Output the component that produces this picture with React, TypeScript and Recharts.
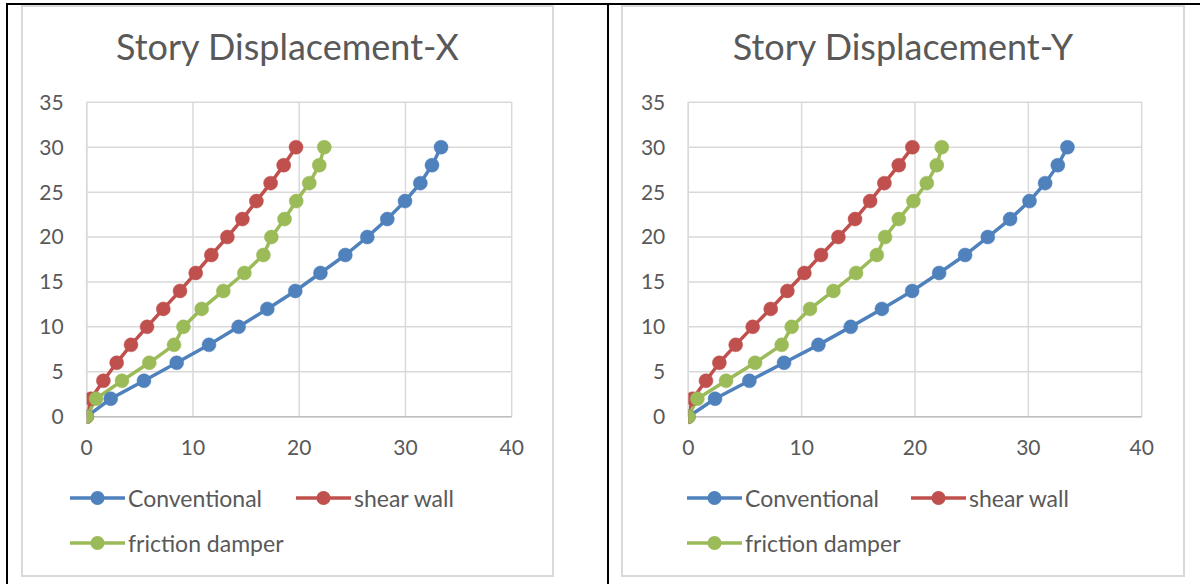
import React from 'react';
import { LineChart, Line, XAxis, YAxis, CartesianGrid } from 'recharts';

// ---------- data ----------
const stories = [0, 2, 4, 6, 8, 10, 12, 14, 16, 18, 20, 22, 24, 26, 28, 30];

const seriesNames = ['Conventional', 'shear wall', 'friction damper'];
const seriesColors = ['#4F81BD', '#C0504D', '#9BBB59'];

const xConventional = [0, 2.26, 5.39, 8.47, 11.51, 14.3, 17.0, 19.63, 22.0, 24.34, 26.41, 28.29, 29.96, 31.4, 32.5, 33.35];
const xShearWall = [0, 0.4, 1.57, 2.82, 4.17, 5.68, 7.21, 8.78, 10.26, 11.73, 13.24, 14.65, 15.97, 17.31, 18.54, 19.7];
const xFriction = [0, 0.88, 3.32, 5.89, 8.22, 9.1, 10.82, 12.86, 14.84, 16.63, 17.38, 18.62, 19.72, 20.95, 21.89, 22.36];

const yConventional = [0, 2.36, 5.39, 8.45, 11.48, 14.33, 17.08, 19.75, 22.13, 24.42, 26.42, 28.39, 30.1, 31.48, 32.6, 33.45];
const yShearWall = [0, 0.38, 1.56, 2.74, 4.18, 5.68, 7.27, 8.74, 10.24, 11.71, 13.24, 14.71, 16.04, 17.3, 18.57, 19.77];
const yFriction = [0, 0.8, 3.33, 5.89, 8.24, 9.12, 10.74, 12.8, 14.8, 16.63, 17.36, 18.57, 19.86, 21.04, 21.92, 22.36];

const xTicks = [0, 10, 20, 30, 40];
const yTicks = [0, 5, 10, 15, 20, 25, 30, 35];

const titles = ['Story Displacement-X', 'Story Displacement-Y'];

// ---------- layout ----------
const FONT = 'Lato, "Open Sans", sans-serif';
const TEXT = '#595959';

type Layout = {
  box: { left: number; top: number; width: number; height: number };
  margin: { top: number; right: number; bottom: number; left: number };
  yAxisWidth: number;
  legend: { x: number; y: number }[];
};

const layouts: Layout[] = [
  {
    box: { left: 21, top: 5, width: 533, height: 572 },
    margin: { top: 97.3, right: 42.3, bottom: 120.3, left: 0 },
    yAxisWidth: 65.7,
    legend: [
      { x: 69, y: 498 },
      { x: 295, y: 498 },
      { x: 69, y: 543 },
    ],
  },
  {
    box: { left: 621, top: 5, width: 564, height: 572 },
    margin: { top: 97.3, right: 43.3, bottom: 120.3, left: 0 },
    yAxisWidth: 67.3,
    legend: [
      { x: 686, y: 498 },
      { x: 910, y: 498 },
      { x: 686, y: 543 },
    ],
  },
];

const toPoints = (xs: number[]) => xs.map((x, i) => ({ x, y: stories[i] }));

const chartSeries = [
  [toPoints(xConventional), toPoints(xShearWall), toPoints(xFriction)],
  [toPoints(yConventional), toPoints(yShearWall), toPoints(yFriction)],
];

function LegendItem({ name, color, x, y }: { name: string; color: string; x: number; y: number }) {
  return (
    <div
      style={{
        position: 'absolute',
        left: x,
        top: y - 14,
        height: 28,
        display: 'flex',
        alignItems: 'center',
        fontFamily: FONT,
        fontSize: 23,
        color: TEXT,
        whiteSpace: 'nowrap',
      }}
    >
      <svg width={57} height={20} style={{ marginRight: 2 }}>
        <line x1={1} y1={10} x2={56} y2={10} stroke={color} strokeWidth={3.5} />
        <circle cx={28.5} cy={10} r={7} fill={color} />
      </svg>
      <span>{name}</span>
    </div>
  );
}

function StoryChart({ idx }: { idx: number }) {
  const L = layouts[idx];
  const series = chartSeries[idx];
  return (
    <>
      <div
        style={{
          position: 'absolute',
          left: L.box.left,
          top: L.box.top,
          width: L.box.width,
          height: L.box.height,
          border: '2px solid #d9d9d9',
          boxSizing: 'border-box',
          background: '#fff',
        }}
      />
      <div
        style={{
          position: 'absolute',
          left: L.box.left,
          top: 24.5,
          width: L.box.width,
          textAlign: 'center',
          fontFamily: FONT,
          fontSize: 36,
          lineHeight: '43.2px',
          color: TEXT,
        }}
      >
        {titles[idx]}
      </div>
      <div style={{ position: 'absolute', left: L.box.left, top: L.box.top }}>
        <LineChart width={L.box.width} height={L.box.height} margin={L.margin}>
          <CartesianGrid stroke="#d9d9d9" strokeWidth={1.5} />
          <XAxis
            type="number"
            dataKey="x"
            domain={[0, 40]}
            ticks={xTicks}
            allowDataOverflow
            height={40}
            tickLine={false}
            tickSize={0}
            tickMargin={23}
            axisLine={{ stroke: '#bfbfbf', strokeWidth: 1.5 }}
            tick={{ fill: TEXT, fontSize: 21, fontFamily: FONT }}
          />
          <YAxis
            type="number"
            dataKey="y"
            domain={[0, 35]}
            ticks={yTicks}
            width={L.yAxisWidth}
            tickLine={false}
            tickSize={0}
            tickMargin={23}
            axisLine={{ stroke: '#d9d9d9', strokeWidth: 1.5 }}
            tick={{ fill: TEXT, fontSize: 21, fontFamily: FONT }}
          />
          {series.map((data, i) => (
            <Line
              key={seriesNames[i]}
              data={data}
              dataKey="y"
              name={seriesNames[i]}
              stroke={seriesColors[i]}
              strokeWidth={3.5}
              dot={{ r: 7, fill: seriesColors[i], stroke: seriesColors[i], strokeWidth: 0.5 }}
              activeDot={false}
              isAnimationActive={false}
            />
          ))}
        </LineChart>
      </div>
      {seriesNames.map((n, i) => (
        <LegendItem key={n} name={n} color={seriesColors[i]} x={L.legend[i].x} y={L.legend[i].y} />
      ))}
    </>
  );
}

export default function App() {
  return (
    <div style={{ position: 'absolute', left: 0, top: 0, width: 1200, height: 584, background: '#fff', overflow: 'hidden' }}>
      <div style={{ position: 'absolute', left: 6, top: 3, width: 1194, height: 2, background: '#000' }} />
      <div style={{ position: 'absolute', left: 6, top: 3, width: 2, height: 581, background: '#000' }} />
      <div style={{ position: 'absolute', left: 607, top: 3, width: 2, height: 581, background: '#000' }} />
      <StoryChart idx={0} />
      <StoryChart idx={1} />
    </div>
  );
}
